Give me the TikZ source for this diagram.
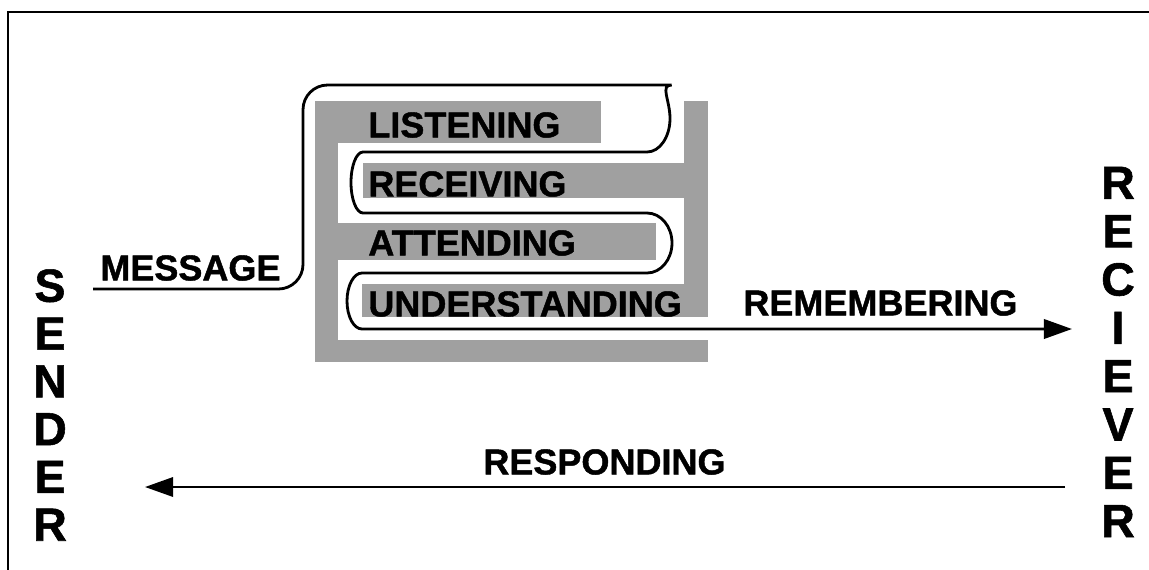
\documentclass[tikz,border=0pt]{standalone}
\usepackage{fontspec}
\setmainfont{Liberation Sans}
\newfontfamily\heavyfont[FakeBold=1.2]{Liberation Sans Bold}
\usepackage{xcolor}
\usepackage{tikz}
\usetikzlibrary{arrows.meta, positioning}

\definecolor{bargray}{RGB}{160,160,160}

\tikzset{
    bar/.style={fill=bargray},
    stage/.style={anchor=west, inner sep=0pt, font=\fontsize{20.5}{24}\selectfont\heavyfont},
    party/.style={inner sep=0pt, align=center, font=\fontsize{26.5}{27.2}\selectfont\heavyfont},
    wire/.style={line width=1.6pt},
    flow/.style={line width=1.4pt, -{Triangle[length=16pt, width=11pt]}}
}

\begin{document}
\begin{tikzpicture}[x=0.02cm, y=0.02cm]
    \useasboundingbox (0,0) rectangle (1149,-569);

    % Frame
    \draw[line width=1.5pt] (8,-575) -- (8,-12) -- (1155,-12);

    % Gray filter
    \fill[bar] (315,-101) rectangle (338,-362);
    \fill[bar] (315,-340) rectangle (708,-362);
    \fill[bar] (684,-101) rectangle (708,-317);
    \fill[bar] (315,-101) rectangle (601,-143);
    \fill[bar] (363,-163) rectangle (684,-198);
    \fill[bar] (338,-223) rectangle (656,-260);
    \fill[bar] (362,-284) rectangle (708,-317);

    % Stages
    \node[stage] (listening) at (368,-125) {LISTENING};
    \node[stage] (receiving) at (368,-184) {RECEIVING};
    \node[stage] (attending) at (368,-243) {ATTENDING};
    \node[stage] (understanding) at (368,-304) {UNDERSTANDING};
    \node[stage] (message) at (100,-268) {MESSAGE};
    \node[stage] (remembering) at (743,-303) {REMEMBERING};
    \node[stage] (responding) at (483,-462) {RESPONDING};

    % Sender and receiver
    \node[party] (sender) at (50,-405) {S\\E\\N\\D\\E\\R};
    \node[party, font=\fontsize{26.5}{27.5}\selectfont\heavyfont] (receiver) at (1118,-352) {R\\E\\C\\I\\E\\V\\E\\R};

    % Ends of the arrows
    \coordinate (msgstart) at (93,-289);
    \coordinate (remtip) at (1072,-329);
    \coordinate (respstart) at (1065,-487);
    \coordinate (resptip) at (145,-487);

    % Message path through the filter
    \draw[wire, -{Triangle[length=16pt, width=11pt]}, rounded corners=14pt]
        (msgstart) -- (303,-289) -- (303,-85) -- (647,-85)
        [sharp corners] arc[start angle=90, end angle=-90, x radius=23, y radius=33.5]
        -- (363,-152) arc[start angle=90, end angle=270, x radius=12, y radius=30.5]
        -- (647,-213) arc[start angle=90, end angle=-90, x radius=25, y radius=30]
        -- (362,-273) arc[start angle=90, end angle=270, x radius=15, y radius=28]
        -- (remtip);

    % Response
    \draw[flow] (respstart) -- (resptip);
\end{tikzpicture}
\end{document}
